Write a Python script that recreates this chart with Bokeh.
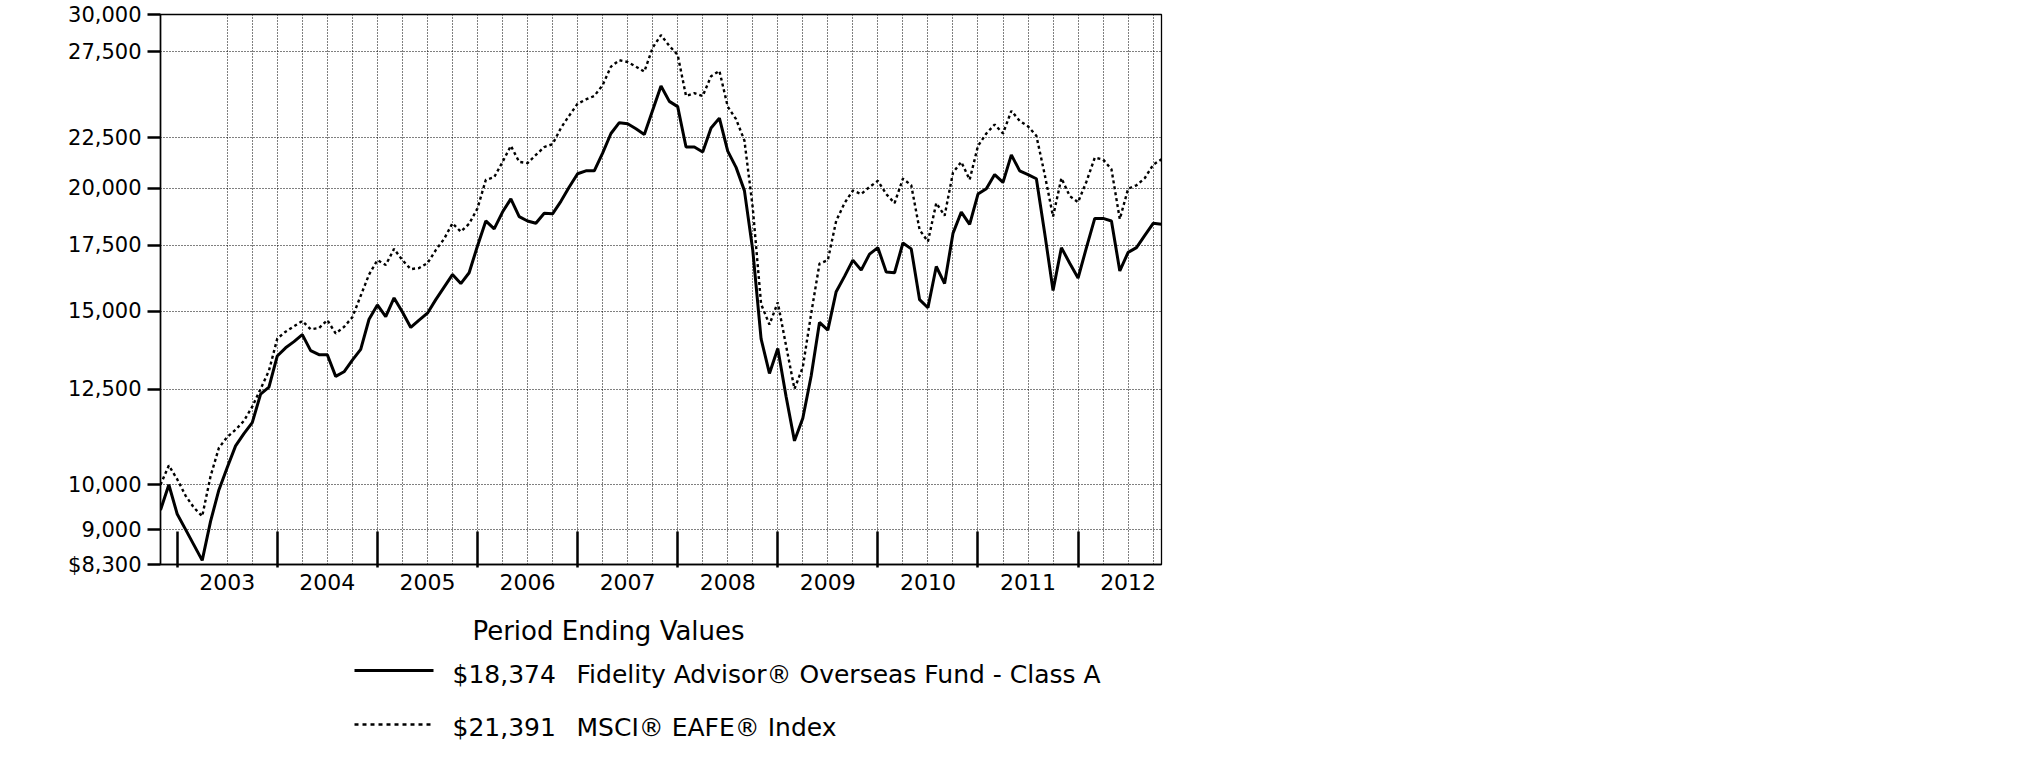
from bokeh.plotting import figure
from bokeh.layouts import column
from bokeh.models import Range1d, FixedTicker, NumeralTickFormatter
from bokeh.embed import file_html
from bokeh.resources import INLINE
from bokeh.core.properties import value

# month index: 0 = Oct 2002 ... 120 = Oct 2012 (month-end values)
months = list(range(121))

fund = [
    9425, 10000, 9340, 9010, 8690, 8380, 9180, 9880, 10410, 10950,
    11270, 11560, 12360, 12560, 13510, 13770, 13970, 14200, 13680, 13550,
    13550, 12880, 13020, 13380, 13720, 14720, 15220, 14810, 15470, 14970,
    14440, 14690, 14930, 15410, 15870, 16340, 16000, 16410, 17470, 18520,
    18180, 18910, 19500, 18710, 18520, 18420, 18860, 18830, 19390, 20050,
    20680, 20820, 20820, 21700, 22720, 23300, 23240, 22970, 22670, 23990,
    25390, 24490, 24190, 22010, 22010, 21760, 23010, 23550, 21800, 20990,
    19880, 17300, 14060, 12970, 13750, 12280, 11080, 11680, 12890, 14610,
    14350, 15700, 16270, 16900, 16510, 17140, 17400, 16440, 16410, 17590,
    17350, 15410, 15120, 16650, 16000, 17990, 18910, 18370, 19720, 19970,
    20640, 20270, 21610, 20820, 20640, 20440, 17990, 15740, 17400, 16780,
    16210, 17400, 18630, 18630, 18520, 16480, 17210, 17400, 17910, 18420,
    18374]

msci = [
    10000, 10460, 10130, 9750, 9480, 9290, 10200, 10900, 11180, 11370,
    11610, 12000, 12510, 13050, 14070, 14300, 14480, 14660, 14380, 14420,
    14690, 14240, 14460, 14790, 15550, 16340, 16900, 16710, 17350, 16900,
    16550, 16590, 16780, 17300, 17760, 18420, 18060, 18400, 19070, 20390,
    20510, 21260, 22070, 21260, 21200, 21610, 22010, 22160, 23010, 23690,
    24350, 24600, 24800, 25430, 26560, 26960, 26850, 26560, 26250, 27760,
    28590, 27880, 27300, 24800, 24970, 24800, 25970, 26300, 24190, 23490,
    22350, 19100, 15250, 14540, 15310, 13830, 12510, 13160, 14910, 16760,
    16900, 18520, 19310, 19880, 19720, 20050, 20340, 19720, 19310, 20440,
    20130, 18140, 17650, 19310, 18750, 20730, 21260, 20390, 22070, 22720,
    23200, 22720, 23950, 23400, 23100, 22600, 20640, 18710, 20470, 19630,
    19350, 20300, 21470, 21380, 20900, 18600, 19970, 20130, 20470, 21120,
    21391]

year_labels = ["2003", "2004", "2005", "2006", "2007", "2008", "2009", "2010", "2011", "2012"]
year_mid_month = [8, 20, 32, 44, 56, 68, 80, 92, 104, 116]        # June of each year
year_end_month = [2, 14, 26, 38, 50, 62, 74, 86, 98, 110]         # December boundaries
quarter_grid = list(range(8, 120, 3))

y_ticks = [8300, 9000, 10000, 12500, 15000, 17500, 20000, 22500, 27500, 30000]
y_grid = [9000, 10000, 12500, 15000, 17500, 20000, 22500, 27500]

legend_title = "Period Ending Values"
legend_values = ["$18,374", "$21,391"]
legend_names = ["Fidelity Advisor\u00ae Overseas Fund -  Class A", "MSCI\u00ae EAFE\u00ae Index"]

FONT = "DejaVu Sans"
LEFT, FW, RIGHT = 160, 1001, 12

p = figure(frame_width=FW, frame_height=550,
           x_range=Range1d(0, 120), y_range=Range1d(8300, 30000),
           y_axis_type="log", output_backend="svg", toolbar_location=None,
           min_border_left=LEFT, min_border_top=14, min_border_right=RIGHT, min_border_bottom=40)
p.background_fill_color = "white"
p.outline_line_color = "black"
p.outline_line_width = 1.3

# grid
p.xgrid.ticker = FixedTicker(ticks=quarter_grid)
p.ygrid.ticker = FixedTicker(ticks=y_grid)
for g in (p.xgrid, p.ygrid):
    g.grid_line_color = "black"
    g.grid_line_width = 1
    g.grid_line_dash = "1 2"

# series
p.line(months, msci, line_color="black", line_width=2.4, line_dash="3 3")
p.line(months, fund, line_color="black", line_width=3)

# y axis
yax = p.yaxis[0]
yax.ticker = FixedTicker(ticks=y_ticks)
yax.formatter = NumeralTickFormatter(format="0,0")
yax.major_label_overrides = {8300: "$8,300"}
yax.major_tick_in = 0
yax.major_tick_out = 13
yax.major_tick_line_width = 2.5
yax.minor_tick_line_color = None
yax.axis_line_width = 1.5
yax.major_label_text_font = FONT
yax.major_label_text_font_size = "21px"
yax.major_label_text_color = "black"
yax.major_label_standoff = 6

# x axis
xax = p.xaxis[0]
xax.ticker = FixedTicker(ticks=year_mid_month, minor_ticks=year_end_month)
xax.major_label_overrides = {m: lab for m, lab in zip(year_mid_month, year_labels)}
xax.major_tick_in = 0
xax.major_tick_out = 0
xax.minor_tick_in = 33
xax.minor_tick_out = 3
xax.minor_tick_line_width = 2.5
xax.minor_tick_line_color = "black"
xax.axis_line_width = 1.5
xax.major_label_text_font = FONT
xax.major_label_text_font_size = "22px"
xax.major_label_text_color = "black"
xax.major_label_standoff = 6

# legend area: a second figure whose frame is aligned with the chart frame;
# its ranges are expressed in page pixels
TOP, H = 604, 157
q = figure(frame_width=FW, frame_height=H,
           x_range=Range1d(LEFT, LEFT + FW), y_range=Range1d(TOP + H, TOP),
           min_border_left=LEFT, min_border_right=RIGHT, min_border_top=0, min_border_bottom=0,
           toolbar_location=None, output_backend="svg",
           x_axis_location=None, y_axis_location=None)
q.grid.visible = False
q.outline_line_color = None

q.text(x=[608], y=[630], text=[legend_title], text_font=value(FONT),
       text_font_size="26px", text_align="center", text_baseline="middle", text_color="black")

q.line([354, 433], [670, 670], line_color="black", line_width=3)
q.line([354, 433], [724, 724], line_color="black", line_width=2.4, line_dash="4 4")
q.text(x=[452, 452], y=[674, 727], text=legend_values, text_font=value(FONT),
       text_font_size="25px", text_align="left", text_baseline="middle", text_color="black")
q.text(x=[576, 576], y=[674, 727], text=legend_names, text_font=value(FONT),
       text_font_size="25px", text_align="left", text_baseline="middle", text_color="black")

layout = column(p, q, spacing=0)
open("out.html", "w").write(file_html(layout, INLINE))
